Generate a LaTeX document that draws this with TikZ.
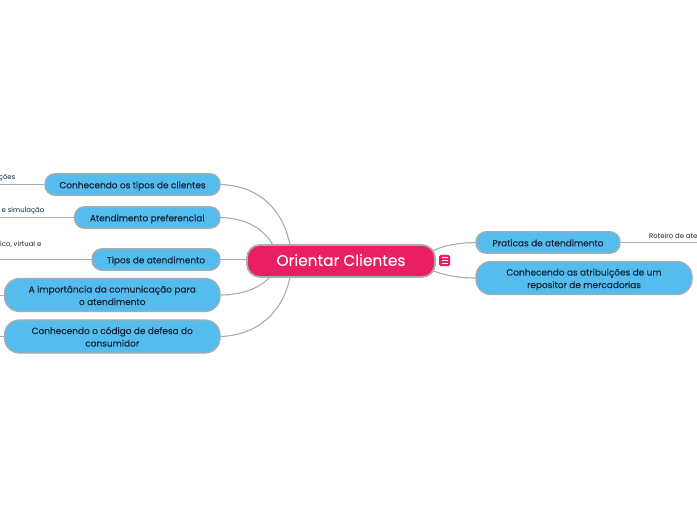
\documentclass[tikz,border=0pt]{standalone}
\usepackage{fontspec}
\setmainfont[FakeBold=0.12]{Poppins}
\newfontfamily\leaffont{Poppins}
\definecolor{bluefill}{HTML}{55BCEE}
\definecolor{pinkfill}{HTML}{E91E63}
\definecolor{edgegray}{HTML}{ABABAB}
\definecolor{inkdark}{HTML}{13233A}
\newcommand{\lowtext}[1]{\raisebox{-1.3bp}[\height][\depth]{\begin{tabular}{@{}c@{}}#1\end{tabular}}}
\tikzset{
  topic/.style={draw=edgegray,line width=1.3bp,fill=bluefill,rounded corners=10bp,inner sep=0pt,text=inkdark,align=center,font=\fontsize{8.95bp}{12.5bp}\selectfont},
  tall/.style={topic,rounded corners=15bp},
  root/.style={draw=edgegray,line width=1.7bp,fill=pinkfill,rounded corners=13bp,inner sep=0pt,text=white,font=\fontsize{15.4bp}{18bp}\selectfont},
  leaf/.style={inner sep=0pt,text=inkdark,font=\leaffont\fontsize{6.9bp}{8bp}\selectfont},
  link/.style={draw=edgegray,line width=1.1bp},
  thin link/.style={draw=edgegray,line width=0.7bp},
}
\begin{document}
\begin{tikzpicture}[x=1bp,y=-1bp]
\useasboundingbox (0,0) rectangle (697,520);
\clip (0,0) rectangle (697,520);
\coordinate (l1) at (0,184.5);
\coordinate (l2) at (0,217.5);
\coordinate (l3) at (0,259.5);
\coordinate (l4) at (0,295);
\coordinate (l5) at (0,336.5);
\coordinate (r1) at (697,242.5);
% connector ends on the root
\coordinate (ra) at (290,245);
\coordinate (rb) at (273,245);
\coordinate (rc) at (270,277);
\coordinate (rd) at (290,277);
\coordinate (re) at (431,252);
\coordinate (rf) at (431,270);
% leaf texts
\node[leaf,anchor=east] (t1) at (15.5,178) {ções};
\node[leaf,anchor=east] (t2) at (44.5,211) {e simulação};
\node[leaf,anchor=east] (t3) at (41.5,244) {ico, virtual e};
\node[leaf,anchor=west] (t6) at (649,236) {Roteiro de ate};
% nodes
\node[topic,minimum width=175bp,minimum height=21.5bp] (a) at (132.5,184.5) {\lowtext{Conhecendo os tipos de clientes}};
\node[topic,minimum width=145.5bp,minimum height=21.5bp] (b) at (147.25,217.5) {\lowtext{Atendimento preferencial}};
\node[topic,minimum width=128bp,minimum height=21.5bp] (c) at (156,259.5) {\lowtext{Tipos de atendimento}};
\node[tall,minimum width=215.5bp,minimum height=33bp] (d) at (112.25,295) {\lowtext{A importância da comunicação para\\o atendimento}};
\node[tall,minimum width=215.5bp,minimum height=33bp] (e) at (112.25,336.5) {\lowtext{Conhecendo o código de defesa do\\consumidor}};
\node[topic,minimum width=144bp,minimum height=21.5bp] (p) at (548,242.5) {\lowtext{Praticas de atendimento}};
\node[tall,minimum width=216bp,minimum height=33bp] (q) at (584,278) {\lowtext{Conhecendo as atribuições de um\\repositor de mercadorias}};
% connectors
\draw[thin link] (l1) -- (a.west);
\draw[thin link] (l2) -- (b.west);
\draw[thin link] (l3) -- (c.west);
\draw[thin link] (l4) -- (d.west);
\draw[thin link] (l5) -- (e.west);
\draw[thin link] (p.east) -- (r1);
\draw[link] (a.east) .. controls (260,186) and (283,210) .. (ra);
\draw[link] (b.east) .. controls (245,218) and (263,228) .. (rb);
\draw[link] (c.east) -- (250,259.5);
\draw[link] (d.east) .. controls (242,295) and (260,288) .. (rc);
\draw[link] (e.east) .. controls (258,335) and (283,312) .. (rd);
\draw[link] (re) .. controls (443,245) and (458,243) .. (p.west);
\draw[link] (rf) .. controls (443,275) and (458,278) .. (q.west);
% root
\node[root,minimum width=188bp,minimum height=32bp] (o) at (341,261) {\raisebox{-0.8bp}{\lowtext{Orientar Clientes}}};
\node[fill=pinkfill,rounded corners=1.5bp,minimum size=11bp,inner sep=0pt] (i) at (444.5,260.5) {};
\draw[white,line width=0.8bp] (441.5,257.5) -- (447.5,257.5) (441.5,260.5) -- (447.5,260.5) (441.5,263.5) -- (447.5,263.5);
\end{tikzpicture}
\end{document}
